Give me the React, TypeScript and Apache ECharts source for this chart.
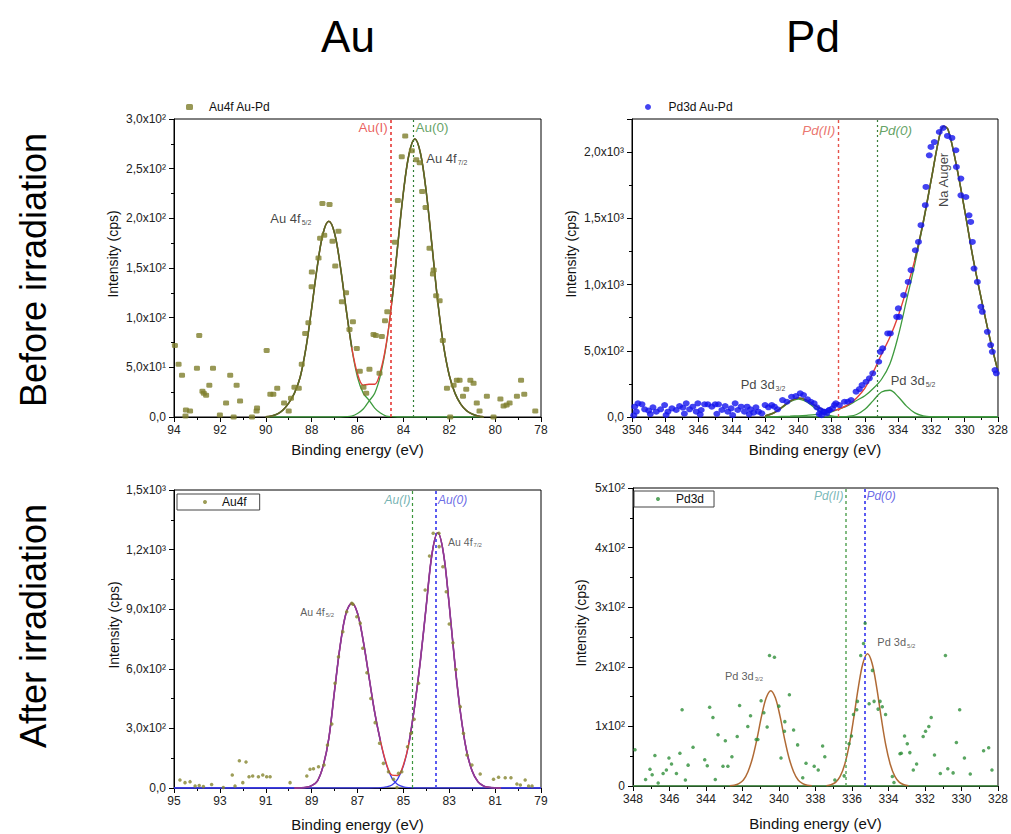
import { useEffect, useRef } from 'react';
import * as echarts from 'echarts';

const FONT = '"Liberation Sans", Arial, Helvetica, sans-serif';

const columnTitles = ['Au', 'Pd'];
const rowTitles = ['Before irradiation', 'After irradiation'];

// ---------- Au 4f, before irradiation ----------
const auBeforeYLabels = ['0,0', '5,0x10¹', '1,0x10²', '1,5x10²', '2,0x10²', '2,5x10²', '3,0x10²'];
const auBeforePoints: [number, number][] = [
  [93.96, 72], [93.8, 53], [93.65, 42], [93.5, 1], [93.48, 7], [93.3, 6], [92.9, 82], [93.0, 49],
  [92.76, 26], [92.7, 24], [92.6, 22], [92.46, 32], [92.3, 49], [92.0, 2], [91.73, 14], [91.55, 42],
  [91.4, 0], [91.27, 32], [91.12, 16], [90.6, 0], [90.4, 6], [90.38, 9], [89.96, 67], [89.8, 23],
  [89.67, 23], [89.5, 29], [89.2, 14], [89.0, 6], [88.9, 19], [88.75, 30], [88.56, 29], [88.43, 53],
  [88.28, 84], [88.14, 95], [88.0, 131], [87.99, 146], [87.7, 160], [87.63, 180], [87.53, 215],
  [87.22, 214], [87.45, 183], [87.09, 177], [86.97, 152], [86.83, 187], [86.68, 116], [86.5, 125],
  [86.35, 88], [86.2, 96], [86.03, 69], [85.9, 46], [85.74, 30], [85.62, 24], [85.48, 48], [85.3, 83],
  [85.2, 82], [85.04, 44], [84.94, 81], [84.8, 97], [84.7, 106], [84.46, 141], [84.37, 176],
  [84.24, 218], [84.07, 262], [83.92, 283], [83.63, 268], [83.44, 259], [83.29, 256], [83.18, 227],
  [83.03, 211], [82.86, 170], [82.71, 144], [82.68, 148], [82.57, 122], [82.42, 117], [82.28, 77],
  [82.1, 29], [81.96, 0], [81.81, 32], [81.67, 37], [81.55, 37], [81.4, 21], [81.26, 28], [81.08, 37],
  [80.94, 34], [80.8, 14], [80.68, 6], [80.36, 21], [80.07, 0], [79.77, 18], [79.63, 11], [79.5, 12],
  [79.37, 14], [79.05, 21], [78.87, 37], [78.73, 23], [78.25, 6],
];
const auBeforeFitX = [
  90, 89.75, 89.5, 89.25, 89, 88.75, 88.5, 88.25, 88, 87.75, 87.5, 87.25, 87, 86.75, 86.5, 86.25, 86,
  85.75, 85.5, 85.25, 85, 84.75, 84.5, 84.25, 84, 83.75, 83.5, 83.25, 83, 82.75, 82.5, 82.25, 82, 81.75,
  81.5, 81.25, 81, 80.75, 80.5,
];
const auBefore52 = [
  0.3, 1, 3, 7, 14, 24, 40, 69, 109, 152, 185, 197, 185, 152, 109, 69, 40, 24, 17, 9, 4, 1, 0.3,
  0, 0, 0, 0, 0, 0, 0, 0, 0, 0, 0, 0, 0, 0, 0, 0,
];
const auBefore72 = [
  0, 0, 0, 0, 0, 0, 0, 0, 0, 0, 0, 0, 0, 0, 0.3, 1, 3.5, 8, 16, 24, 42, 72, 116, 172, 226, 265, 280,
  265, 226, 172, 116, 72, 42, 24, 13, 6.5, 3, 1, 0.3,
];
const auBeforeEnvelope = [
  0.3, 1, 3, 7, 14, 24, 40, 69, 109, 152, 185, 197, 185, 152, 109.3, 70, 43.5, 32, 33, 33, 46, 73,
  116.3, 172, 226, 265, 280, 265, 226, 172, 116, 72, 42, 24, 13, 6.5, 3, 1, 0.3,
];

// ---------- Pd 3d, before irradiation ----------
const pdBeforeYLabels = ['0,0', '5,0x10²', '1,0x10³', '1,5x10³', '2,0x10³'];
const pdBeforePoints: [number, number][] = [
  [349.84, 78], [349.64, 103], [349.4, 96], [349.74, 40], [349.24, 58], [349.0, 48], [348.74, 73],
  [348.54, 40], [348.28, 58], [348.04, 90], [347.84, 40], [347.6, 65], [347.34, 53], [347.14, 83],
  [346.94, 70], [346.74, 103], [346.54, 58], [346.34, 78], [346.14, 40], [346.04, 103], [345.84, 53],
  [345.64, 96], [345.44, 96], [345.2, 78], [345.0, 96], [344.8, 96], [344.6, 53], [344.4, 83],
  [344.24, 40], [344.04, 65], [343.8, 103], [343.64, 53], [343.44, 78], [343.24, 40], [343.08, 78],
  [342.88, 58], [342.69, 33], [342.55, 73], [342.4, 40], [342.2, 28], [342.0, 90], [341.8, 73],
  [341.6, 90], [341.44, 78], [341.25, 58], [340.95, 128], [340.69, 115], [340.41, 153], [340.15, 158],
  [339.89, 179], [339.69, 166], [339.45, 133], [339.25, 115], [339.05, 103], [338.89, 73], [338.69, 53],
  [338.49, 40], [338.29, 28], [338.15, 53], [337.95, 65], [337.75, 103],
  [349.9, 12], [348.9, 22], [347.95, 15], [346.85, 25], [345.9, 18], [344.9, 24], [343.95, 14],
  [342.95, 20], [338.75, 22], [338.6, 14],
  [331.3, 2182], [331.53, 2152], [331.04, 2122], [330.77, 2107], [331.83, 2076], [332.03, 2039],
  [332.13, 1976], [330.53, 2014], [330.5, 1888], [330.23, 1800], [330.23, 1674], [332.33, 1737],
  [332.37, 1599], [332.63, 1448], [332.78, 1322], [332.97, 1259], [333.23, 1109], [333.4, 1020],
  [333.67, 920], [333.99, 820], [334.09, 756], [333.93, 756], [334.47, 631], [334.63, 631],
  [334.93, 518], [335.07, 492], [335.17, 417], [335.53, 330], [335.73, 292], [335.93, 266],
  [336.17, 241], [336.33, 211], [336.53, 191], [336.83, 128], [337.03, 115], [337.23, 115],
  [337.53, 90], [337.83, 90], [338.13, 53], [338.43, 40], [329.93, 1661], [329.74, 1523],
  [329.64, 1473], [329.54, 1322], [329.44, 1121], [329.24, 1020], [329.03, 832], [328.94, 794],
  [328.64, 643], [328.44, 543], [328.34, 492], [328.18, 354], [328.1, 330],
];
const pdBeforeFitX = [
  342, 341.5, 341, 340.5, 340, 339.5, 339, 338.5, 338, 337.5, 337, 336.5, 336, 335.5, 335, 334.5, 334,
  333.5, 333, 332.5, 332, 331.5, 331.25, 331, 330.5, 330, 329.5, 329, 328.5, 328,
];
const pdBeforeAuger = [
  0, 2, 4, 6, 9, 13, 18, 26, 38, 62, 88, 125, 160, 215, 285, 400, 610, 880, 1155, 1460, 1800, 2130,
  2195, 2170, 1900, 1560, 1200, 890, 600, 345,
];
const pdBefore32 = [
  8.5, 28, 68, 114, 135, 114, 68, 28, 8.5, 2, 0, 0, 0, 0, 0, 0, 0, 0, 0, 0, 0, 0, 0, 0, 0, 0, 0, 0, 0, 0,
];
const pdBefore52 = [
  0, 0, 0, 0, 0, 0, 0, 0, 0, 0, 5, 19, 58, 124, 189, 202, 153, 82, 31, 8, 1, 0, 0, 0, 0, 0, 0, 0, 0, 0,
];
const pdBeforeEnvelope = [
  8.5, 30, 72, 120, 144, 127, 86, 54, 46.5, 64, 93, 144, 218, 339, 474, 602, 763, 962, 1186, 1468,
  1801, 2130, 2195, 2170, 1900, 1560, 1200, 890, 600, 345,
];

// ---------- Au 4f, after irradiation ----------
const auAfterYLabels = ['0,0', '3,0x10²', '6,0x10²', '9,0x10²', '1,2x10³', '1,5x10³'];
const auAfterXTicks = [79, 81, 83, 85, 87, 89, 91, 93, 95];
const auAfterXMinor = [80, 82, 84, 86, 88, 90, 92, 94];
const auAfterPoints: [number, number][] = [
  [94.74, 40], [94.52, 27], [94.3, 32], [94.08, 10], [93.9, 13], [93.72, 7], [93.36, 18], [92.85, 3],
  [92.46, 65], [92.34, 10], [92.15, 137], [92.0, 27], [91.86, 131], [91.73, 57], [91.57, 60],
  [91.32, 57], [91.13, 65], [90.96, 57], [90.81, 57], [89.94, 27], [89.21, 60], [89.07, 94],
  [88.92, 97], [88.7, 107], [88.46, 116], [88.31, 216], [88.12, 322], [87.98, 527], [87.83, 661],
  [87.64, 787], [87.47, 887], [87.25, 930], [87.2, 925], [87.03, 862], [86.88, 829], [86.77, 703],
  [86.59, 580], [86.42, 451], [86.23, 329], [86.04, 225], [85.87, 124], [85.65, 82], [85.43, 44],
  [85.28, 3], [85.21, 74], [85.07, 82], [84.82, 208], [84.67, 275], [84.53, 346], [84.34, 527],
  [84.05, 997], [83.86, 1168], [83.7, 1282], [83.45, 1282], [83.44, 1215], [83.28, 1114], [83.13, 988],
  [83.0, 826], [82.84, 731], [82.71, 597], [82.52, 409], [82.38, 275], [82.23, 166], [82.01, 116],
  [81.65, 70], [81.07, 44], [80.85, 54], [80.56, 52], [80.31, 52], [80.05, 20], [79.9, 15],
  [79.69, 40], [79.54, 10], [79.39, 10],
];
const auAfterFitX = [
  95, 89.75, 89.5, 89.25, 89, 88.75, 88.5, 88.25, 88, 87.75, 87.5, 87.25, 87, 86.75, 86.5, 86.25, 86,
  85.75, 85.5, 85.25, 85, 84.75, 84.5, 84.25, 84, 83.75, 83.5, 83.25, 83, 82.75, 82.5, 82.25, 82, 81.75,
  81.5, 81.25, 81, 80.75, 79,
];
const auAfter52 = [
  0, 0, 0.5, 3, 12, 35, 110, 250, 490, 720, 880, 930, 880, 740, 560, 380, 235, 120, 50, 18, 6, 1.5,
  0, 0, 0, 0, 0, 0, 0, 0, 0, 0, 0, 0, 0, 0, 0, 0, 0,
];
const auAfter72 = [
  0, 0, 0, 0, 0, 0, 0, 0, 0, 0, 0, 0, 0, 0, 0, 0.5, 2, 6, 15, 45, 110, 230, 420, 650, 920, 1180, 1285,
  1180, 920, 620, 370, 190, 85, 32, 10, 3, 0.5, 0, 0,
];
const auAfterEnvelope = [
  null, 0, 0.5, 3, 12, 35, 110, 250, 490, 720, 880, 930, 880, 740, 560, 380.5, 237, 126, 65, 63, 116,
  231.5, 420, 650, 920, 1180, 1285, 1180, 920, 620, 370, 190, 85, 32, 10, 3, 0.5, 0, null,
];

// ---------- Pd 3d, after irradiation ----------
const pdAfterYLabels = ['0', '1x10²', '2x10²', '3x10²', '4x10²', '5x10²'];
const pdAfterPoints: [number, number][] = [
  [347.89, 61], [347.31, 11], [347.07, 28], [346.95, 19], [346.8, 51], [346.62, 5], [346.35, 21],
  [346.17, 27], [346.03, 47], [345.89, 37], [345.62, 21], [345.43, 55], [345.31, 128], [345.13, 10],
  [344.98, 35], [344.71, 65], [344.07, 44], [343.93, 34], [343.8, 132], [343.62, 115], [343.49, 11],
  [343.34, 86], [343.07, 33], [342.94, 76], [342.8, 33], [342.58, 49], [342.29, 83], [342.16, 135],
  [341.71, 100], [341.56, 118], [341.25, 78], [341.16, 78], [340.98, 143], [340.83, 123], [340.65, 99],
  [340.52, 219], [340.25, 216], [340.01, 134], [339.89, 47], [339.7, 92], [339.68, 108], [339.43, 153],
  [339.2, 94], [338.98, 69], [338.7, 14], [338.52, 38], [338.07, 33], [337.85, 27], [337.61, 67],
  [337.49, 49], [336.94, 10], [336.43, 17], [336.16, 71], [336.03, 84], [335.92, 120], [335.74, 128],
  [335.7, 142], [335.52, 219], [335.37, 239], [335.28, 273], [335.06, 138], [334.88, 194], [334.79, 142],
  [334.57, 129], [334.46, 142], [334.34, 133], [334.16, 120], [333.79, 16], [333.7, 6], [333.37, 54],
  [333.3, 55], [333.12, 84], [332.97, 71], [332.83, 56], [332.64, 27], [332.46, 37], [332.1, 83],
  [331.97, 92], [331.79, 100], [331.66, 115], [331.48, 52], [331.16, 21], [330.88, 219], [330.75, 29],
  [330.46, 22], [330.28, 73], [330.1, 128], [329.84, 47], [329.52, 20], [328.79, 59], [328.51, 64],
  [328.33, 27],
];
const pdAfter32X = [
  342.7, 342.45, 342.2, 341.95, 341.7, 341.45, 341.2, 340.95, 340.7, 340.45, 340.2, 339.95, 339.7,
  339.45, 339.2, 338.95, 338.7, 338.45, 338.2,
];
const pdAfter32 = [0.3, 1.2, 4, 10, 24, 47, 80, 118, 148, 160, 148, 118, 80, 47, 24, 10, 4, 1.2, 0.3];
const pdAfter52X = [
  337.4, 337.15, 336.9, 336.65, 336.4, 336.15, 335.9, 335.65, 335.4, 335.15, 334.9, 334.65, 334.4,
  334.15, 333.9, 333.65, 333.4, 333.15, 332.9,
];
const pdAfter52 = [0.5, 2, 6, 16, 36, 69, 115, 166, 206, 222, 206, 166, 115, 69, 36, 16, 6, 2, 0.5];
const pdAfterBaselineX = [348, 328];
const pdAfterBaseline = [0, 0];

// ---------- chemical-state reference energies (eV) ----------
const auBeforeRefs = [84.55, 83.56];
const pdBeforeRefs = [337.6, 335.27];
const auAfterRefs = [84.6, 83.58];
const pdAfterRefs = [336.36, 335.32];

const pairs = (xs: number[], ys: (number | null)[]) => xs.map((x, i) => [x, ys[i]]);
// same curve, left out over an open x range (where the underlying curves separate)
const maskedPairs = (xs: number[], ys: (number | null)[], lo: number, hi: number) =>
  xs.map((x, i) => [x, x > lo && x < hi ? null : ys[i]]);

const BLACK = { color: '#000', width: 1 };

function energyAxis(gridIndex: number, min: number, max: number, nameGap: number, extra: any = {}) {
  return {
    type: 'value', gridIndex, min, max, interval: 2, inverse: true, position: 'bottom',
    name: 'Binding energy (eV)', nameLocation: 'middle', nameGap,
    nameTextStyle: { fontSize: 15, color: '#111', fontFamily: FONT },
    axisLine: { show: true, onZero: false, lineStyle: BLACK },
    axisTick: { show: true, length: 5, lineStyle: BLACK },
    minorTick: { show: true, splitNumber: 2, length: 3, lineStyle: BLACK },
    axisLabel: { fontSize: 12, color: '#222', margin: 7, fontFamily: FONT },
    splitLine: { show: false },
    minorSplitLine: { show: false },
    ...extra,
  };
}

function intensityAxis(gridIndex: number, max: number, interval: number, labels: string[], nameGap: number) {
  return {
    type: 'value', gridIndex, min: 0, max, interval, position: 'left',
    name: 'Intensity (cps)', nameLocation: 'middle', nameGap,
    nameTextStyle: { fontSize: 14, color: '#111', fontFamily: FONT, padding: [0, 0, 0, 28] },
    axisLine: { show: true, onZero: false, lineStyle: BLACK },
    axisTick: { show: true, length: 5, lineStyle: BLACK },
    minorTick: { show: true, splitNumber: 2, length: 3, lineStyle: BLACK },
    axisLabel: {
      fontSize: 12, color: '#222', margin: 8, fontFamily: FONT,
      formatter: (v: number) => {
        const i = Math.round(v / interval);
        return Math.abs(v - i * interval) < 1e-6 && labels[i] !== undefined ? labels[i] : '';
      },
    },
    splitLine: { show: false },
    minorSplitLine: { show: false },
  };
}

function fitLine(axis: number, data: any[], color: string, width: number, z: number) {
  return {
    type: 'line', xAxisIndex: axis, yAxisIndex: axis, data, smooth: 0.35, symbol: 'none',
    showSymbol: false, silent: true, connectNulls: false, lineStyle: { color, width }, z,
    emphasis: { disabled: true },
  };
}

function sub(main: string, s: string, size: number, color: string) {
  return {
    formatter: `{a|${main}}{b|${s}}`,
    rich: {
      a: { fontSize: size, color, fontFamily: FONT },
      b: { fontSize: Math.round(size * 0.55), color, fontFamily: FONT, padding: [Math.round(size * 0.6), 0, 0, 1] },
    },
  };
}

function tag(x: number, y: number, label: any) {
  return { value: [x, y], label: { show: true, fontFamily: FONT, ...label } };
}

function annotations(axis: number, tags: any[], refLines: any[]) {
  return {
    type: 'scatter', xAxisIndex: axis, yAxisIndex: axis, symbolSize: 0, silent: true, z: 10,
    data: tags,
    markLine: { silent: true, symbol: ['none', 'none'], label: { show: false }, data: refLines },
  };
}

function buildOption() {
  const grid = [
    { left: 174, top: 119, width: 367, height: 298 },
    { left: 632, top: 119, width: 367, height: 298 },
    { left: 174, top: 490, width: 367, height: 298 },
    { left: 633, top: 488, width: 366, height: 298 },
  ].map((g) => ({ ...g, show: true, borderColor: '#000', borderWidth: 1, backgroundColor: 'transparent' }));

  const xAxis = [
    energyAxis(0, 78, 94, 25),
    energyAxis(1, 328, 350, 25),
    energyAxis(2, 79, 95, 29, {
      interval: 1,
      axisTick: { show: true, length: 5, lineStyle: BLACK, customValues: auAfterXTicks },
      axisLabel: { fontSize: 12, color: '#222', margin: 7, fontFamily: FONT, customValues: auAfterXTicks },
      minorTick: { show: false },
    }),
    energyAxis(3, 328, 348, 30),
    {
      type: 'value', gridIndex: 2, min: 79, max: 95, inverse: true, position: 'bottom',
      axisLine: { show: false }, axisLabel: { show: false }, splitLine: { show: false },
      axisTick: { show: true, length: 3, lineStyle: BLACK, customValues: auAfterXMinor },
    },
  ];
  const yAxis = [
    intensityAxis(0, 300, 50, auBeforeYLabels, 54),
    intensityAxis(1, 2250, 500, pdBeforeYLabels, 54),
    intensityAxis(2, 1500, 300, auAfterYLabels, 53),
    intensityAxis(3, 500, 100, pdAfterYLabels, 45),
  ];

  const legendText = { fontSize: 12, color: '#111', fontFamily: FONT };
  const legend = [
    {
      data: ['Au4f Au-Pd'], left: 186, top: 101, padding: 0, icon: 'roundRect', itemWidth: 7, itemHeight: 6,
      selectedMode: false, textStyle: { ...legendText, padding: [0, 0, 0, 11] },
    },
    {
      data: ['Pd3d Au-Pd'], left: 645, top: 101, padding: 0, icon: 'circle', itemWidth: 7, itemHeight: 6,
      selectedMode: false, textStyle: { ...legendText, padding: [0, 0, 0, 12] },
    },
    {
      data: ['Au4f'], left: 177, top: 494, padding: [2, 13, 2, 26], icon: 'circle', itemWidth: 4, itemHeight: 4,
      borderColor: '#444', borderWidth: 1, selectedMode: false, textStyle: { ...legendText, padding: [0, 0, 0, 10] },
    },
    {
      data: ['Pd3d'], left: 634, top: 491, padding: [2, 10, 2, 22], icon: 'circle', itemWidth: 4, itemHeight: 4,
      borderColor: '#444', borderWidth: 1, selectedMode: false, textStyle: { ...legendText, padding: [0, 0, 0, 11] },
    },
  ];

  const GREEN = '#3f9b3f';
  const RED = '#e2403a';
  const OLIVE = '#566a28';
  const BLUE = '#3a3ae8';
  const PURPLE = '#8c3a9c';
  const BROWN = '#b06a35';

  const series: any[] = [
    // Au 4f before
    fitLine(0, pairs(auBeforeFitX, auBefore52), GREEN, 1.3, 3),
    fitLine(0, pairs(auBeforeFitX, auBefore72), GREEN, 1.3, 3),
    fitLine(0, pairs(auBeforeFitX, auBeforeEnvelope), RED, 1.4, 4),
    fitLine(0, maskedPairs(auBeforeFitX, auBeforeEnvelope, 84.5, 86.25), OLIVE, 1.6, 5),
    {
      type: 'scatter', name: 'Au4f Au-Pd', xAxisIndex: 0, yAxisIndex: 0, data: auBeforePoints,
      symbol: 'roundRect', symbolSize: [6, 5], itemStyle: { color: '#7e7e2c' }, z: 6, silent: true,
    },
    annotations(0, [
      tag(auBeforeRefs[0], 291, { formatter: 'Au(I)', position: 'left', distance: 3, color: '#e53935', fontSize: 13.5 }),
      tag(auBeforeRefs[1], 291, { formatter: 'Au(0)', position: 'right', distance: 2, color: '#3d8b3d', fontSize: 13.5 }),
      tag(83.0, 260, { position: 'right', distance: 0, ...sub('Au 4f', '7/2', 13, '#111') }),
      tag(89.8, 200, { position: 'right', distance: 0, ...sub('Au 4f', '5/2', 13, '#111') }),
    ], [
      { xAxis: auBeforeRefs[0], lineStyle: { color: '#e53935', type: [3, 3], width: 1.6 } },
      { xAxis: auBeforeRefs[1], lineStyle: { color: '#2e7d32', type: [2, 3], width: 1.2 } },
    ]),

    // Pd 3d before
    fitLine(1, pairs(pdBeforeFitX, pdBefore32), GREEN, 1.3, 3),
    fitLine(1, pairs(pdBeforeFitX, pdBefore52), GREEN, 1.3, 3),
    fitLine(1, pairs(pdBeforeFitX, pdBeforeAuger), GREEN, 1.3, 3),
    fitLine(1, pairs(pdBeforeFitX, pdBeforeEnvelope), RED, 1.4, 4),
    fitLine(1, maskedPairs(pdBeforeFitX, pdBeforeEnvelope, 333, 338.5), OLIVE, 1.6, 5),
    {
      type: 'scatter', name: 'Pd3d Au-Pd', xAxisIndex: 1, yAxisIndex: 1, data: pdBeforePoints,
      symbol: 'circle', symbolSize: [7, 6], itemStyle: { color: '#1414ee' }, z: 6, silent: true,
    },
    annotations(1, [
      tag(pdBeforeRefs[0], 2160, { formatter: 'Pd(II)', position: 'left', distance: 3, color: '#e5534b', fontSize: 13.5, fontStyle: 'italic' }),
      tag(pdBeforeRefs[1], 2160, { formatter: 'Pd(0)', position: 'right', distance: 2, color: '#3d8b3d', fontSize: 13.5, fontStyle: 'italic' }),
      tag(331.3, 1790, { formatter: 'Na Auger', position: 'inside', rotate: 90, color: '#111', fontSize: 13 }),
      tag(343.47, 243, { position: 'right', distance: 0, ...sub('Pd 3d', '3/2', 13, '#111') }),
      tag(334.45, 272, { position: 'right', distance: 0, ...sub('Pd 3d', '5/2', 13, '#111') }),
    ], [
      { xAxis: pdBeforeRefs[0], lineStyle: { color: '#e5534b', type: [3, 3], width: 1.4 } },
      { xAxis: pdBeforeRefs[1], lineStyle: { color: '#3a7d3a', type: [2, 3], width: 1.2 } },
    ]),

    // Au 4f after
    fitLine(2, pairs(auAfterFitX, auAfter52), BLUE, 1.3, 3),
    fitLine(2, pairs(auAfterFitX, auAfter72), BLUE, 1.3, 3),
    fitLine(2, pairs(auAfterFitX, auAfterEnvelope), RED, 1.4, 4),
    fitLine(2, maskedPairs(auAfterFitX, auAfterEnvelope, 84.75, 86.0), PURPLE, 1.6, 5),
    {
      type: 'scatter', name: 'Au4f', xAxisIndex: 2, yAxisIndex: 2, data: auAfterPoints,
      symbol: 'circle', symbolSize: 3.5, itemStyle: { color: '#85852e' }, z: 6, silent: true,
    },
    annotations(2, [
      tag(auAfterRefs[0], 1450, { formatter: 'Au(I)', position: 'left', distance: 2, color: '#4f9e9e', fontSize: 12, fontStyle: 'italic' }),
      tag(auAfterRefs[1], 1450, { formatter: 'Au(0)', position: 'right', distance: 2, color: '#4545e0', fontSize: 12, fontStyle: 'italic' }),
      tag(83.05, 1238, { position: 'right', distance: 0, ...sub('Au 4f', '7/2', 10.5, '#333') }),
      tag(89.5, 886, { position: 'right', distance: 0, ...sub('Au 4f', '5/2', 10.5, '#333') }),
    ], [
      { xAxis: auAfterRefs[0], lineStyle: { color: '#3c963c', type: [3, 3], width: 1.2 } },
      { xAxis: auAfterRefs[1], lineStyle: { color: '#4a4af0', type: [3, 3], width: 1.8 } },
    ]),

    // Pd 3d after
    fitLine(3, pairs(pdAfterBaselineX, pdAfterBaseline), '#4a9a4a', 1.5, 3),
    fitLine(3, pairs(pdAfter32X, pdAfter32), BROWN, 1.5, 4),
    fitLine(3, pairs(pdAfter52X, pdAfter52), BROWN, 1.5, 4),
    {
      type: 'scatter', name: 'Pd3d', xAxisIndex: 3, yAxisIndex: 3, data: pdAfterPoints,
      symbol: 'circle', symbolSize: 3.5, itemStyle: { color: '#2f8f3a' }, z: 6, silent: true,
    },
    annotations(3, [
      tag(pdAfterRefs[0], 487, { formatter: 'Pd(II)', position: 'left', distance: 2, color: '#58a6a6', fontSize: 12, fontStyle: 'italic' }),
      tag(pdAfterRefs[1], 487, { formatter: 'Pd(0)', position: 'right', distance: 2, color: '#4545e0', fontSize: 12, fontStyle: 'italic' }),
      tag(342.96, 185, { position: 'right', distance: 0, ...sub('Pd 3d', '3/2', 11, '#333') }),
      tag(334.61, 241, { position: 'right', distance: 0, ...sub('Pd 3d', '5/2', 11, '#333') }),
    ], [
      { xAxis: pdAfterRefs[0], lineStyle: { color: '#5aa55a', type: [3, 3], width: 1.5 } },
      { xAxis: pdAfterRefs[1], lineStyle: { color: '#4a4af0', type: [3, 3], width: 1.8 } },
    ]),
  ];

  const big = { fill: '#000', fontFamily: FONT, align: 'center', verticalAlign: 'middle' };
  const graphic = [
    { type: 'text', x: 348, y: 36, style: { ...big, text: columnTitles[0], fontSize: 44 } },
    { type: 'text', x: 813, y: 36, style: { ...big, text: columnTitles[1], fontSize: 44 } },
    { type: 'text', x: 33, y: 270, rotation: Math.PI / 2, style: { ...big, text: rowTitles[0], fontSize: 36 } },
    { type: 'text', x: 33, y: 626, rotation: Math.PI / 2, style: { ...big, text: rowTitles[1], fontSize: 36 } },
  ];

  return {
    animation: false,
    backgroundColor: '#fff',
    textStyle: { fontFamily: FONT },
    grid, xAxis, yAxis, legend, series, graphic,
  };
}

export default function App() {
  const ref = useRef<HTMLDivElement>(null);
  useEffect(() => {
    if (!ref.current) return;
    const chart = echarts.init(ref.current, undefined, { renderer: 'svg' });
    chart.setOption(buildOption() as any);
    return () => chart.dispose();
  }, []);
  return (
    <div
      ref={ref}
      style={{ position: 'absolute', left: 0, top: 0, width: 1011, height: 834 }}
    />
  );
}
